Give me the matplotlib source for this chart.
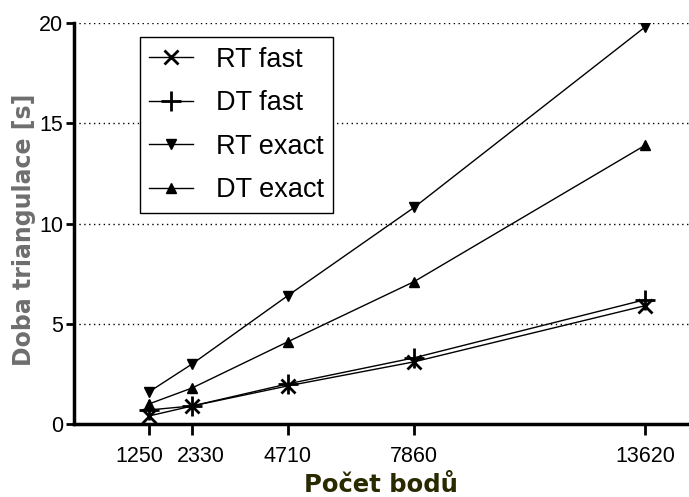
import numpy as np
import matplotlib.pyplot as plt
import matplotlib.transforms as mtransforms

# Data
points = [1250, 2330, 4710, 7860, 13620]
rt_fast = [0.4, 0.9, 1.9, 3.1, 5.9]
dt_fast = [0.7, 0.9, 2.0, 3.3, 6.2]
rt_exact = [1.6, 3.0, 6.4, 10.8, 19.8]
dt_exact = [1.0, 1.8, 4.1, 7.1, 13.9]
y_ticks = [0, 5, 10, 15, 20]

plt.rcParams['font.family'] = ['Liberation Sans', 'DejaVu Sans']

fig = plt.figure(figsize=(6.89, 4.97), dpi=100)
ax = fig.add_axes([0.1074, 0.1469, 0.8926, 0.8068])

ax.plot(points, rt_fast, '-x', color='black', lw=1, ms=10, mew=2, label='RT fast')
ax.plot(points, dt_fast, '-+', color='black', lw=1, ms=14, mew=2, label='DT fast')
ax.plot(points, rt_exact, '-v', color='black', lw=1, ms=7.5, label='RT exact')
ax.plot(points, dt_exact, '-^', color='black', lw=1, ms=7.5, label='DT exact')

# Grid
for y in y_ticks[1:]:
    ax.axhline(y, color='black', lw=1, ls=(0, (1, 2.5)), zorder=0)

ax.set_xlim(-620, 14716)
ax.set_ylim(0, 20)
ax.set_xticks(points)
ax.set_yticks(y_ticks)
ax.tick_params(axis='both', labelsize=15.5, width=2, direction='out')
ax.tick_params(axis='x', length=8, pad=8)
ax.tick_params(axis='y', length=6, pad=2)

# nudge first two x labels apart, like the original
labels = ax.get_xticklabels()
labels[0].set_transform(labels[0].get_transform() + mtransforms.ScaledTranslation(-0.10, 0, fig.dpi_scale_trans))
labels[1].set_transform(labels[1].get_transform() + mtransforms.ScaledTranslation(0.09, 0, fig.dpi_scale_trans))

for s in ['top', 'right']:
    ax.spines[s].set_visible(False)
for s in ['left', 'bottom']:
    ax.spines[s].set_linewidth(2.5)

fig.text(24 / 689, 0.537, 'Doba triangulace [s]', rotation=90, ha='center', va='center',
         fontsize=17, fontweight='bold', color='#6e6e6e', family='DejaVu Sans')
fig.text(0.553, 0.024, 'Počet bodů', ha='center', va='center',
         fontsize=17.5, fontweight='bold', color='#2a2a00', family='DejaVu Sans')

leg = ax.legend(loc='upper left', bbox_to_anchor=(0.107, 0.965), fontsize=19.5,
                frameon=True, fancybox=False, edgecolor='black', framealpha=1,
                handlelength=1.6, handletextpad=0.85, labelspacing=0.65,
                borderpad=0.35, borderaxespad=0)
leg.get_frame().set_linewidth(1)

fig.savefig('out.png', dpi=100)
